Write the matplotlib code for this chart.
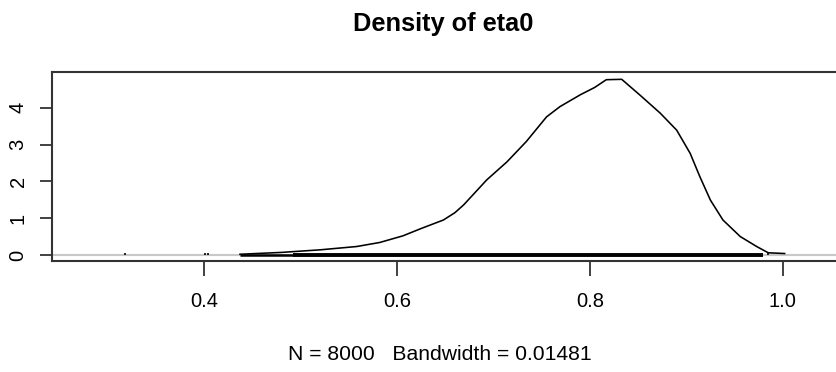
import numpy as np
import matplotlib
matplotlib.use("Agg")
import matplotlib.pyplot as plt

plt.rcParams['font.family'] = ['Liberation Sans', 'DejaVu Sans']

# density curve of eta0
eta_x = [0.437, 0.480, 0.520, 0.558, 0.582, 0.606, 0.625, 0.648, 0.660, 0.669,
         0.693, 0.714, 0.734, 0.755, 0.769, 0.790, 0.805, 0.817, 0.833, 0.852,
         0.873, 0.890, 0.904, 0.914, 0.925, 0.938, 0.956, 0.973, 0.985, 1.002]
eta_y = [0.02, 0.07, 0.14, 0.23, 0.34, 0.52, 0.72, 0.95, 1.15, 1.36,
         2.04, 2.53, 3.08, 3.75, 4.03, 4.35, 4.55, 4.76, 4.77, 4.34,
         3.85, 3.39, 2.76, 2.13, 1.49, 0.95, 0.50, 0.23, 0.06, 0.04]

# observations shown as rug ticks
rug_single = [0.318, 0.401, 0.404, 0.985]
rug_sparse = (0.437, 0.492)
rug_dense = (0.492, 0.980)

n_obs = 8000
bandwidth = 0.01481
xticks = [0.4, 0.6, 0.8, 1.0]
yticks = [0, 1, 2, 3, 4]

W, H = 836, 372
fig = plt.figure(figsize=(W / 100, H / 100), dpi=100)
ax = fig.add_axes([52 / W, (H - 261) / H, (838 - 52) / W, (261 - 71.7) / H])

ax.axhline(0, color='#c8c8c8', lw=1.5, zorder=1)
ax.plot(eta_x, eta_y, color='black', lw=1.15, zorder=3)
rug_top = max(eta_y) / 100
ax.vlines(rug_single, 0, rug_top, color='black', lw=1.2, zorder=2)
ax.hlines(0.01, *rug_sparse, color='black', lw=1.8, zorder=2)
ax.hlines(0.01, *rug_dense, color='black', lw=2.8, zorder=2)

ax.set_xlim(0.242, 0.242 + (838 - 52) / 964)
ax.set_ylim(-0.163, 4.977)
ax.set_xticks(xticks)
ax.set_xticklabels(['%.1f' % t for t in xticks])
ax.set_yticks(yticks)
ax.set_yticklabels([str(t) for t in yticks], rotation=90, va='center')

for s in ax.spines.values():
    s.set_linewidth(1.5)
    s.set_color('#333333')
ax.tick_params(axis='x', length=10.5, width=1.3, color='#333333', pad=12, labelsize=14.5)
ax.tick_params(axis='y', length=8.6, width=1.3, color='#333333', pad=9, labelsize=14.5)

fig.text(443 / W, 1 - 24 / H, 'Density of eta0', ha='center', va='center',
         fontsize=18.3, fontweight='bold')
fig.text(440 / W, 1 - 355 / H, 'N = %d   Bandwidth = %.5f' % (n_obs, bandwidth),
         ha='center', va='center', fontsize=15.2)

fig.savefig('out.png', dpi=100)
